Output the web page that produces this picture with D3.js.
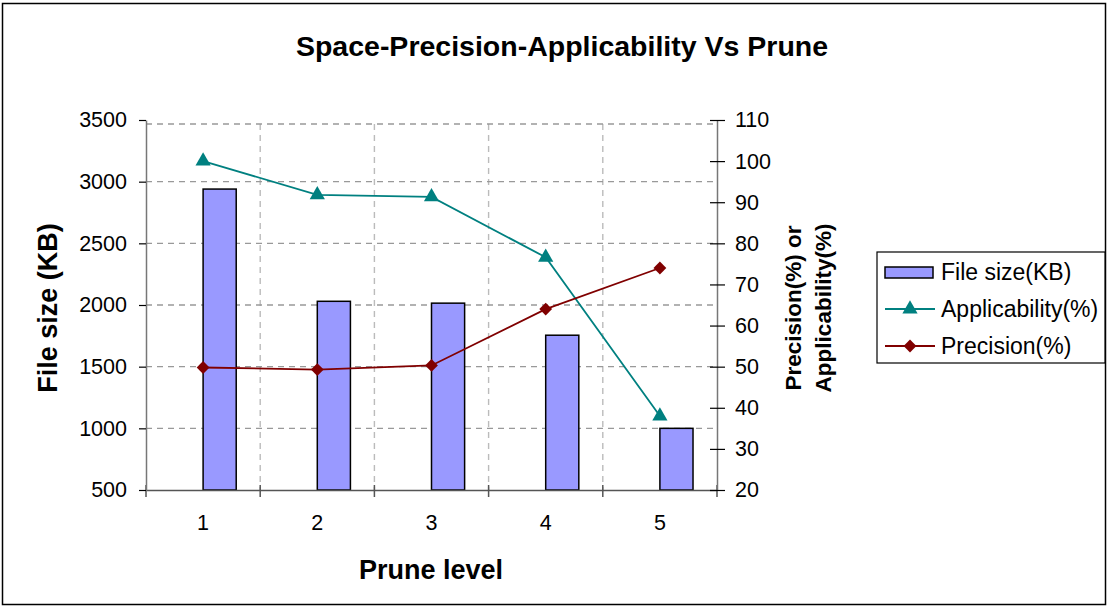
<!DOCTYPE html>
<html>
<head>
<meta charset="utf-8">
<script src="https://cdn.jsdelivr.net/npm/d3@7"></script>
<style>
  body { margin: 0; background: #fff; }
  svg { font-family: "Liberation Sans", Arial, sans-serif; }
</style>
</head>
<body>
<svg width="1108" height="606"></svg>
<script>
// data
var levels = ["1", "2", "3", "4", "5"];
var fileSize = [2940, 2030, 2015, 1755, 1000];
var applicability = [100, 91.8, 91.3, 76.6, 38];
var precision = [49.8, 49.3, 50.3, 64, 74];
var leftTicks = [500, 1000, 1500, 2000, 2500, 3000, 3500];
var rightTicks = [20, 30, 40, 50, 60, 70, 80, 90, 100, 110];

var svg = d3.select("svg"),
    width = +svg.attr("width"),
    height = +svg.attr("height"),
    plot = {left: 146, right: 717, top: 120, bottom: 490};

// frame round the whole chart
svg.append("rect")
    .attr("x", 2.5).attr("y", 3.5)
    .attr("width", width - 5).attr("height", height - 5)
    .attr("fill", "none")
    .attr("stroke", "#000")
    .attr("stroke-width", 1.5);

var x = d3.scaleBand()
    .domain(levels)
    .range([plot.left, plot.right]);

var yL = d3.scaleLinear()
    .domain([500, 3500])
    .range([plot.bottom, plot.top]);

var yR = d3.scaleLinear()
    .domain([20, 110])
    .range([plot.bottom, plot.top]);

function cx(d) { return x(d) + x.bandwidth() / 2; }

// grid
svg.append("g")
    .selectAll("line")
    .data(levels.slice(1))
    .enter().append("line")
      .attr("x1", function(d) { return x(d); })
      .attr("x2", function(d) { return x(d); })
      .attr("y1", plot.top + 4)
      .attr("y2", plot.bottom)
      .attr("stroke", "#bbb")
      .attr("stroke-width", 1.4)
      .attr("stroke-dasharray", "6,5");

svg.append("g")
    .selectAll("line")
    .data(leftTicks.slice(1))
    .enter().append("line")
      .attr("x1", plot.left)
      .attr("x2", plot.right)
      .attr("y1", function(d) { return d == 3500 ? yL(d) + 4 : yL(d); })
      .attr("y2", function(d) { return d == 3500 ? yL(d) + 4 : yL(d); })
      .attr("stroke", "#999")
      .attr("stroke-width", 1.3)
      .attr("stroke-dasharray", "6,5");

// bars sit to the right of the category centre
var barW = x.bandwidth() * 0.29;
svg.append("g")
    .selectAll("rect")
    .data(levels)
    .enter().append("rect")
      .attr("x", function(d) { return cx(d); })
      .attr("y", function(d, i) { return yL(fileSize[i]); })
      .attr("width", barW)
      .attr("height", function(d, i) { return yL(500) - yL(fileSize[i]); })
      .attr("fill", "#9999ff")
      .attr("stroke", "#000")
      .attr("stroke-width", 1.5);

// axes
var gx = svg.append("g")
    .attr("transform", "translate(0," + plot.bottom + ")")
    .call(d3.axisBottom(x).tickSize(0).tickPadding(25));
gx.select(".domain").attr("stroke", "#555").attr("stroke-width", 1.5);
gx.selectAll("text").attr("font-size", 21.5).attr("fill", "#000");
gx.selectAll(".bnd")
    .data(d3.range(levels.length + 1))
    .enter().append("line")
      .attr("x1", function(i) { return plot.left + i * x.step(); })
      .attr("x2", function(i) { return plot.left + i * x.step(); })
      .attr("y1", -5).attr("y2", 7)
      .attr("stroke", "#555").attr("stroke-width", 1.5);

var gl = svg.append("g")
    .attr("transform", "translate(" + plot.left + ",0)")
    .call(d3.axisLeft(yL).tickValues(leftTicks).tickFormat(d3.format("d"))
      .tickSize(7).tickPadding(12).tickSizeOuter(0));
gl.select(".domain").attr("stroke", "#777").attr("stroke-width", 1.5);
gl.selectAll(".tick line").attr("stroke", "#000").attr("stroke-width", 1.2);
gl.selectAll("text").attr("font-size", 21.5).attr("fill", "#000");

var gr = svg.append("g")
    .attr("transform", "translate(" + plot.right + ",0)")
    .call(d3.axisRight(yR).tickValues(rightTicks).tickSize(8).tickPadding(10).tickSizeOuter(0));
gr.select(".domain").attr("stroke", "#777").attr("stroke-width", 1.5);
gr.selectAll(".tick line").attr("x1", -7).attr("stroke", "#000").attr("stroke-width", 1.2);
gr.selectAll("text").attr("font-size", 21.5).attr("fill", "#000");

// lines
var tri = d3.symbol().type(d3.symbolTriangle).size(100);
var dia = d3.symbol().type(d3.symbolSquare).size(82);

function drawSeries(vals, color, sym, rot) {
  svg.append("path")
      .datum(vals)
      .attr("fill", "none")
      .attr("stroke", color)
      .attr("stroke-width", 1.8)
      .attr("d", d3.line()
          .x(function(d, i) { return cx(levels[i]); })
          .y(function(d) { return yR(d); }));
  svg.append("g")
    .selectAll("path")
    .data(vals)
    .enter().append("path")
      .attr("d", sym)
      .attr("transform", function(d, i) {
        return "translate(" + cx(levels[i]) + "," + yR(d) + ") rotate(" + rot + ")";
      })
      .attr("fill", color);
}
drawSeries(applicability, "#008080", tri, 0);
drawSeries(precision, "#800000", dia, 45);

// titles
svg.append("text")
    .attr("x", 562).attr("y", 56)
    .attr("text-anchor", "middle")
    .attr("font-size", 28.5).attr("font-weight", "bold")
    .text("Space-Precision-Applicability Vs Prune");

svg.append("text")
    .attr("x", 431).attr("y", 579)
    .attr("text-anchor", "middle")
    .attr("font-size", 27).attr("font-weight", "bold")
    .text("Prune level");

svg.append("text")
    .attr("transform", "translate(57,308) rotate(-90)")
    .attr("text-anchor", "middle")
    .attr("font-size", 27).attr("font-weight", "bold")
    .text("File size (KB)");

var rl = svg.append("text")
    .attr("transform", "translate(801,308) rotate(-90)")
    .attr("text-anchor", "middle")
    .attr("font-size", 22.5).attr("font-weight", "bold");
rl.append("tspan").attr("x", 0).attr("dy", 0).text("Precision(%) or");
rl.append("tspan").attr("x", 0).attr("dy", 30).text("Applicability(%)");

// legend
var lg = svg.append("g").attr("transform", "translate(877,252)");
lg.append("rect")
    .attr("width", 228).attr("height", 111)
    .attr("fill", "#fff").attr("stroke", "#000").attr("stroke-width", 1.2);

var items = ["File size(KB)", "Applicability(%)", "Precision(%)"];
var rowY = [20, 57, 94];
lg.append("rect")
    .attr("x", 8).attr("y", rowY[0] - 5).attr("width", 48).attr("height", 11)
    .attr("fill", "#9999ff").attr("stroke", "#000").attr("stroke-width", 1.5);
[["#008080", tri, 0], ["#800000", dia, 45]].forEach(function(s, i) {
  var yy = rowY[i + 1];
  lg.append("line")
      .attr("x1", 8).attr("x2", 58).attr("y1", yy).attr("y2", yy)
      .attr("stroke", s[0]).attr("stroke-width", 1.8);
  lg.append("path")
      .attr("d", s[1])
      .attr("transform", "translate(33," + yy + ") rotate(" + s[2] + ")")
      .attr("fill", s[0]);
});
lg.selectAll(".lab")
    .data(items)
    .enter().append("text")
      .attr("x", 64)
      .attr("y", function(d, i) { return rowY[i]; })
      .attr("dy", "0.35em")
      .attr("font-size", 23)
      .text(function(d) { return d; });
</script>
</body>
</html>
